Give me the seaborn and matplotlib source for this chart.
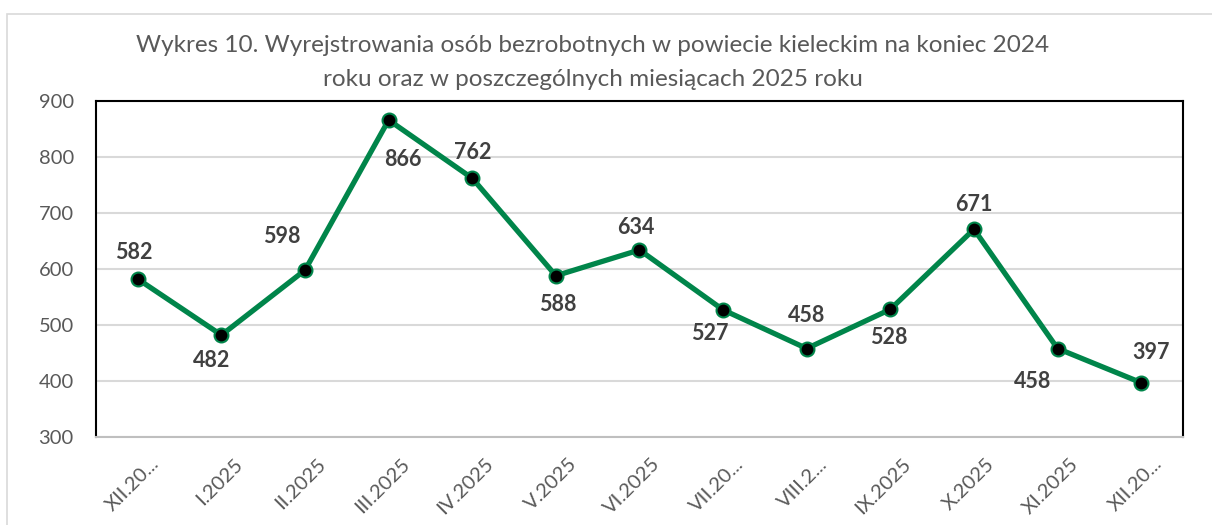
import numpy as np
import pandas as pd
import matplotlib
matplotlib.use("Agg")
import matplotlib.pyplot as plt
import matplotlib.transforms as mtrans
import seaborn as sns

# dane z wykresu
miesiace = ["XII.20...", "I.2025", "II.2025", "III.2025", "IV.2025", "V.2025",
            "VI.2025", "VII.20...", "VIII.2...", "IX.2025", "X.2025", "XI.2025", "XII.20..."]
wartosci = [582, 482, 598, 866, 762, 588, 634, 527, 458, 528, 671, 458, 397]

# przesunięcia etykiet danych (piksele) - ręcznie jak w oryginale
dx_etykiet = [-4, -10, -23, 14, 0, 2, -4, -13, 0, -2, 0, -25, 10]
dy_etykiet = [27, -25, 34, -39, 26, -29, 22, -24, 33, -28, 25, -33, 30]

sns.set_theme(style="white")
plt.rcParams['font.family'] = ['Lato', 'DejaVu Sans']

df = pd.DataFrame({"miesiac": miesiace, "wartosc": wartosci})
df["x"] = np.arange(len(df))

W, H = 1212, 525
fig = plt.figure(figsize=(W / 100, H / 100), dpi=100)
ax = fig.add_axes([96 / W, 1 - 437 / H, (1183 - 96) / W, (437 - 101) / H])

zielony = "#00854A"
sns.lineplot(data=df, x="x", y="wartosc", ax=ax, color=zielony, linewidth=3.8,
             marker="o", markersize=10, markerfacecolor="black",
             markeredgecolor=zielony, markeredgewidth=1.5, zorder=3)

for xi, yi, dx, dy in zip(df["x"], df["wartosc"], dx_etykiet, dy_etykiet):
    ax.annotate(str(yi), (xi, yi), xytext=(dx, dy), textcoords="offset pixels",
                ha="center", va="center", fontsize=15.5, fontweight="bold", color="#404040")

ax.set_xlim(-0.5, len(df) - 0.5)
ax.set_ylim(300, 900)
ax.set_yticks(range(300, 901, 100))
ax.set_xticks(df["x"])
ax.set_xticklabels(miesiace, rotation=45, ha="right", rotation_mode="anchor")
ax.tick_params(axis="both", labelsize=14.5, labelcolor="#595959", length=0)
ax.tick_params(axis="x", pad=13)
ax.tick_params(axis="y", pad=16)
przes = mtrans.ScaledTranslation(12 / 100, 0, fig.dpi_scale_trans)
for lab in ax.get_xticklabels():
    lab.set_transform(lab.get_transform() + przes)
ax.set_xlabel("")
ax.set_ylabel("")
ax.yaxis.grid(True, color="#D9D9D9", linewidth=1.5)
ax.set_axisbelow(True)

for s in ["left", "top", "right"]:
    ax.spines[s].set_color("black")
    ax.spines[s].set_linewidth(1.5)
ax.spines["bottom"].set_color("#BFBFBF")
ax.spines["bottom"].set_linewidth(1.5)

tytul = ["Wykres 10. Wyrejstrowania osób bezrobotnych w powiecie kieleckim na koniec 2024",
         "roku oraz w poszczególnych miesiącach 2025 roku"]
for i, linia in enumerate(tytul):
    fig.text(593 / W, 1 - (46 + 34 * i) / H, linia, ha="center", va="center",
             fontsize=17.5, color="#595959")

# ramka obszaru wykresu
ramka = plt.Rectangle((7 / W, -0.01), 1.02, 1 - 14 / H + 0.01, transform=fig.transFigure,
                      fill=False, edgecolor="#D9D9D9", linewidth=1.2)
fig.add_artist(ramka)

fig.savefig("out.png", dpi=100)
